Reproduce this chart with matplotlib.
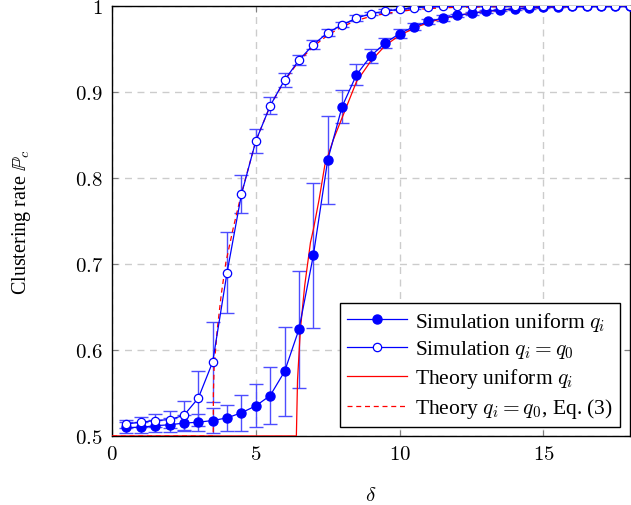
import numpy as np
import matplotlib.pyplot as plt

plt.rcParams['font.family'] = ['Liberation Serif', 'DejaVu Serif']
plt.rcParams['mathtext.fontset'] = 'cm'

# simulation points (delta = 0.5 ... 18)
delta_sim = np.arange(1, 37) * 0.5

sim_uniform = [0.510, 0.510, 0.512, 0.513, 0.515, 0.516, 0.518, 0.521, 0.527, 0.535,
               0.547, 0.575, 0.624, 0.710, 0.821, 0.883, 0.920, 0.942, 0.957, 0.968,
               0.976, 0.982, 0.986, 0.989, 0.9915, 0.9938, 0.9953, 0.9965, 0.9977, 0.9986,
               0.9991, 0.9994, 0.9996, 0.9998, 0.9999, 1.0]
err_uniform = [0.006, 0.006, 0.007, 0.008, 0.009, 0.010, 0.015, 0.015, 0.021, 0.025,
               0.033, 0.052, 0.068, 0.084, 0.051, 0.019, 0.012, 0.008, 0.006, 0.005,
               0.004, 0.003, 0.003, 0.002, 0.002, 0.002, 0.001, 0.001, 0.001, 0.001,
               0.0, 0.0, 0.0, 0.0, 0.0, 0.0]

sim_q0 = [0.514, 0.516, 0.518, 0.519, 0.524, 0.544, 0.586, 0.690, 0.781, 0.843,
          0.884, 0.914, 0.937, 0.955, 0.969, 0.978, 0.986, 0.991, 0.994, 0.996,
          0.998, 0.999, 0.9995, 0.9998, 1.0, 1.0, 1.0, 1.0, 1.0, 1.0,
          1.0, 1.0, 1.0, 1.0, 1.0, 1.0]
err_q0 = [0.005, 0.006, 0.007, 0.010, 0.017, 0.032, 0.047, 0.047, 0.022, 0.014,
          0.010, 0.008, 0.006, 0.005, 0.004, 0.003, 0.003, 0.002, 0.002, 0.001,
          0.001, 0.0, 0.0, 0.0, 0.0, 0.0, 0.0, 0.0, 0.0, 0.0,
          0.0, 0.0, 0.0, 0.0, 0.0, 0.0]

# theory curves
delta_th_uniform = [0.0, 6.41, 6.45, 6.55, 6.7, 6.9, 7.0, 7.2, 7.4, 7.7, 8.0, 8.5, 9.0,
                    9.5, 10.0, 10.5, 11.0, 11.5, 12.0, 12.5, 13.0, 14.0, 15.0, 16.0, 18.0]
th_uniform = [0.5, 0.5, 0.565, 0.624, 0.675, 0.725, 0.740, 0.775, 0.815, 0.845, 0.870, 0.912, 0.936,
              0.954, 0.966, 0.974, 0.981, 0.9853, 0.989, 0.9915, 0.9938, 0.9965, 0.9984, 0.9993, 1.0]

delta_th_q0 = [0.0, 3.52, 3.525, 3.55, 3.66, 3.8, 3.96, 4.21, 4.5, 5.0, 5.5, 6.0, 6.5,
               7.0, 7.5, 8.0, 8.5, 9.0, 10.0, 11.0, 12.0, 14.0, 18.0]
th_q0 = [0.5, 0.5, 0.55, 0.58, 0.624, 0.665, 0.702, 0.741, 0.782, 0.843, 0.884, 0.913, 0.936,
         0.953, 0.966, 0.976, 0.983, 0.988, 0.994, 0.997, 0.9985, 0.9995, 1.0]

fig = plt.figure(figsize=(6.31, 5.06), dpi=100)
ax = fig.add_axes([0.1775, 0.1364, 0.8205, 0.8498])

ax.plot(delta_th_uniform, th_uniform, color='red', lw=0.9, zorder=4, label='Theory uniform $q_i$')
ax.plot(delta_th_q0, th_q0, color='red', lw=0.9, ls=(0, (4, 3)), zorder=4,
        label='Theory $q_i=q_0$, Eq. (3)')

# error bars
ax.errorbar(delta_sim, sim_uniform, yerr=err_uniform, fmt='none', ecolor='#4d4dff',
            elinewidth=1.0, capsize=5, capthick=1.0, zorder=3)
ax.errorbar(delta_sim, sim_q0, yerr=err_q0, fmt='none', ecolor='#4d4dff',
            elinewidth=1.0, capsize=5, capthick=1.0, zorder=3)

ax.plot(delta_sim, sim_uniform, color='blue', lw=0.9, marker='o', ms=6.5,
        mfc='blue', mec='blue', zorder=5, label='Simulation uniform $q_i$')
ax.plot(delta_sim, sim_q0, color='blue', lw=0.9, marker='o', ms=6,
        mfc='white', mec='blue', mew=0.9, zorder=5, label='Simulation $q_i=q_0$')

ax.set_xlim(0, 18)
ax.set_ylim(0.5, 1.0)
ax.set_xticks([0, 5, 10, 15])
ax.set_xticklabels(['$0$', '$5$', '$10$', '$15$'])
ax.set_yticks([0.5, 0.6, 0.7, 0.8, 0.9, 1.0])
ax.set_yticklabels(['$0.5$', '$0.6$', '$0.7$', '$0.8$', '$0.9$', '$1$'])
ax.tick_params(direction='in', length=4, color='#808080', labelsize=15,
               top=True, right=True, pad=6.5)
ax.grid(True, color='#cccccc', ls=(0, (5, 4)), lw=1.0)
ax.set_axisbelow(True)
for s in ax.spines.values():
    s.set_linewidth(1.0)

ax.set_xlabel(r'$\delta$', fontsize=15, labelpad=16)
ax.set_ylabel(r'Clustering rate $\mathbb{P}_c$', fontsize=14.5, labelpad=30)

handles, labels = ax.get_legend_handles_labels()
order = [2, 3, 0, 1]
leg = ax.legend([handles[i] for i in order], [labels[i] for i in order],
                loc='lower right', fontsize=15.5, frameon=True, fancybox=False,
                edgecolor='black', framealpha=1, handlelength=2.8, handletextpad=0.4,
                borderpad=0.3, labelspacing=0.27, borderaxespad=0,
                bbox_to_anchor=(0.981, 0.022))
leg.get_frame().set_linewidth(1.0)

fig.savefig('out.png', dpi=100)
